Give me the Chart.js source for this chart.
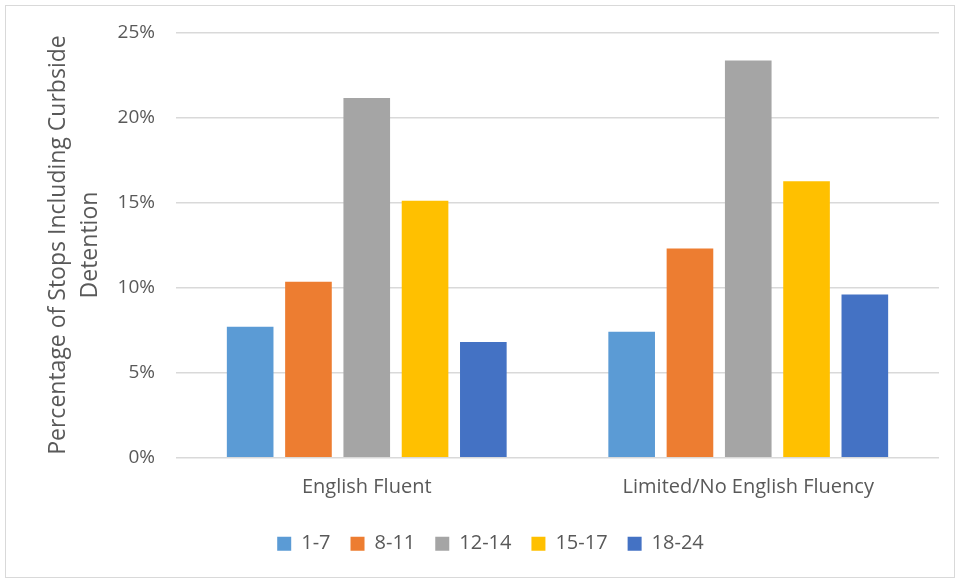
<!DOCTYPE html>
<html>
<head>
<meta charset="utf-8">
<script src="https://cdn.jsdelivr.net/npm/chart.js@4/dist/chart.umd.min.js"></script>
<style>
  html, body { margin: 0; padding: 0; background: #fff; }
  #wrap { position: relative; width: 957px; height: 580px; }
  #frame { position: absolute; left: 5px; top: 5px; width: 950px; height: 573px; border: 1px solid #d9d9d9; box-sizing: border-box; pointer-events: none; }
</style>
</head>
<body>
<div id="wrap">
  <canvas id="c" width="957" height="580"></canvas>
  <div id="frame"></div>
</div>
<script>
const categories = ['English Fluent', 'Limited/No English Fluency'];
const seriesNames = ['1-7', '8-11', '12-14', '15-17', '18-24'];
const values_1_7 = [7.7, 7.4];
const values_8_11 = [10.35, 12.3];
const values_12_14 = [21.15, 23.35];
const values_15_17 = [15.1, 16.25];
const values_18_24 = [6.8, 9.6];
const seriesColors = ['#5B9BD5', '#ED7D31', '#A5A5A5', '#FFC000', '#4472C4'];
const yTitle = ['Percentage of Stops Including Curbside', 'Detention'];

const seriesValues = [values_1_7, values_8_11, values_12_14, values_15_17, values_18_24];
const FONT = "'Open Sans', sans-serif";
const TXT = '#595959';

new Chart(document.getElementById('c'), {
  type: 'bar',
  data: {
    labels: categories,
    datasets: seriesNames.map((n, i) => ({
      label: n,
      data: seriesValues[i],
      backgroundColor: seriesColors[i],
      borderWidth: 0,
      categoryPercentage: 0.764,
      barPercentage: 0.8
    }))
  },
  options: {
    responsive: false,
    animation: false,
    layout: { padding: { left: 42, right: 18, top: 24.6, bottom: 16.3 } },
    plugins: {
      tooltip: { enabled: false },
      legend: {
        position: 'bottom',
        labels: {
          boxWidth: 14, boxHeight: 14, padding: 20,
          color: TXT,
          font: { family: FONT, size: 20 }
        }
      }
    },
    scales: {
      x: {
        grid: { display: false, drawTicks: false },
        border: { display: false },
        ticks: { color: TXT, font: { family: FONT, size: 20 }, padding: 18 },
        afterFit: s => { s.height = s.height - 4; }
      },
      y: {
        min: 0, max: 25,
        ticks: {
          stepSize: 5,
          color: TXT,
          font: { family: FONT, size: 19 },
          padding: 21,
          callback: v => v + '%'
        },
        grid: { color: '#d9d9d9', lineWidth: 1.5, drawTicks: false },
        border: { display: false },
        title: {
          display: true,
          text: yTitle,
          color: TXT,
          font: { family: FONT, size: 23, lineHeight: 1.4 },
          padding: { top: 0, bottom: 0 }
        },
        afterFit: s => { s.width = 134; }
      }
    }
  }
});
</script>
</body>
</html>
